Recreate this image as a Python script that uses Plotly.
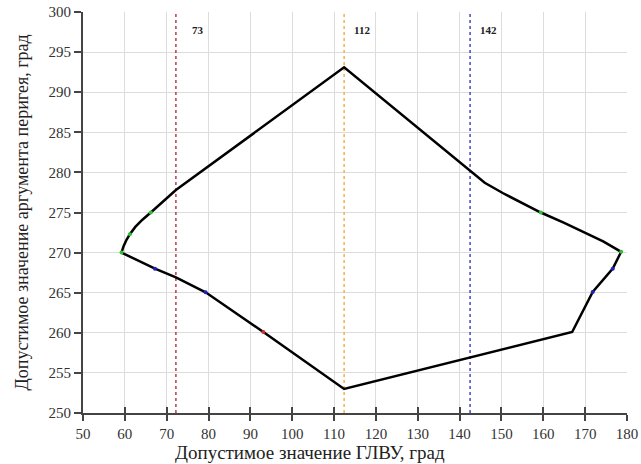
import plotly.graph_objects as go

# ---- data ----
boundary_x = [59.2, 59.7, 60.4, 61.2, 62.5, 64.2, 66.2, 69.0, 72.2, 112.4,
              142.5, 146.0, 150.4, 155.0, 159.4, 165.0, 170.0, 174.3, 178.6,
              176.6, 171.8, 166.9, 112.4, 93.1, 79.3, 72.2, 67.2, 59.2]
boundary_y = [270.0, 270.8, 271.6, 272.3, 273.2, 274.1, 275.0, 276.3, 277.8, 293.1,
              280.1, 278.7, 277.4, 276.2, 275.0, 273.7, 272.5, 271.4, 270.1,
              268.0, 265.1, 260.1, 253.0, 260.1, 265.05, 266.9, 268.0, 270.0]

green_x = [59.2, 61.2, 66.2, 159.4, 178.6]
green_y = [270.0, 272.3, 275.0, 275.0, 270.1]
blue_x = [67.2, 79.3, 176.6, 171.8]
blue_y = [268.0, 265.05, 268.0, 265.1]
red_x = [93.1]
red_y = [260.1]

vline_x = [72.2, 112.4, 142.5]
vline_labels = ["73", "112", "142"]
vline_colors = ["#b83c4a", "#f2b04a", "#4848c0"]
label_shift_px = [14, 8, 8]

y_range = [250, 300]
x_range = [50, 180]

FONT = "Liberation Serif, Times New Roman, serif"

fig = go.Figure()

for xv, col in zip(vline_x, vline_colors):
    fig.add_trace(go.Scatter(x=[xv, xv], y=y_range, mode="lines",
                             line=dict(color=col, width=1.5, dash="dot"),
                             hoverinfo="skip", showlegend=False))

fig.add_trace(go.Scatter(x=boundary_x, y=boundary_y, mode="lines",
                         line=dict(color="black", width=2.5), showlegend=False))

for xs, ys, col in [(green_x, green_y, "#30c030"), (blue_x, blue_y, "#2020c0"),
                    (red_x, red_y, "#d03030")]:
    fig.add_trace(go.Scatter(x=xs, y=ys, mode="markers",
                             marker=dict(color=col, size=4), showlegend=False))

# overlay axis to draw ticks crossing the x axis (inside part)
fig.add_trace(go.Scatter(x=x_range, y=y_range, xaxis="x2", mode="markers",
                         marker=dict(opacity=0), hoverinfo="skip", showlegend=False))

for xv, lab, sh in zip(vline_x, vline_labels, label_shift_px):
    fig.add_annotation(x=xv, y=297.8, text="<b>" + lab + "</b>", showarrow=False,
                       xanchor="left", xshift=sh, font=dict(family=FONT, size=11, color="#222"))

fig.add_annotation(text="Допустимое значение ГЛВУ, град", xref="paper", yref="paper",
                   x=(310 - 83) / 544, y=(413 - 452) / 401, xanchor="center", yanchor="middle",
                   showarrow=False, font=dict(family=FONT, size=19, color="#222"))

fig.add_annotation(text="Допустимое значение аргумента перигея, град", xref="paper",
                   yref="paper", x=(21 - 83) / 544, y=0.5, xanchor="center",
                   yanchor="middle", textangle=-90, showarrow=False,
                   font=dict(family=FONT, size=18, color="#222"))

fig.update_layout(
    width=641, height=464,
    margin=dict(l=83, r=14, t=12, b=51),
    paper_bgcolor="white", plot_bgcolor="white",
    font=dict(family=FONT, size=15, color="#333"),
    xaxis=dict(range=x_range, dtick=10, tick0=50, showgrid=True, gridcolor="#dcdcdc",
               gridwidth=1, zeroline=False, showline=True, linecolor="#444", linewidth=2,
               ticks="outside", ticklen=6, tickwidth=2, tickcolor="#444", automargin=False,
               tickfont=dict(family=FONT, size=15, color="#333")),
    xaxis2=dict(range=x_range, dtick=10, tick0=50, overlaying="x", side="bottom",
                showgrid=False, zeroline=False, showline=False, ticks="inside",
                ticklen=6, tickwidth=2, tickcolor="#444", showticklabels=False,
                automargin=False),
    yaxis=dict(range=y_range, dtick=5, showgrid=True, gridcolor="#dcdcdc", gridwidth=1,
               zeroline=False, showline=True, linecolor="#444", linewidth=2,
               ticks="outside", ticklen=7, tickwidth=2, tickcolor="#444", automargin=False,
               tickfont=dict(family=FONT, size=15, color="#333")),
)

fig.write_html("out.html", config={"displayModeBar": False},
               post_script="document.body.style.margin='0';document.body.style.overflow='hidden';")
